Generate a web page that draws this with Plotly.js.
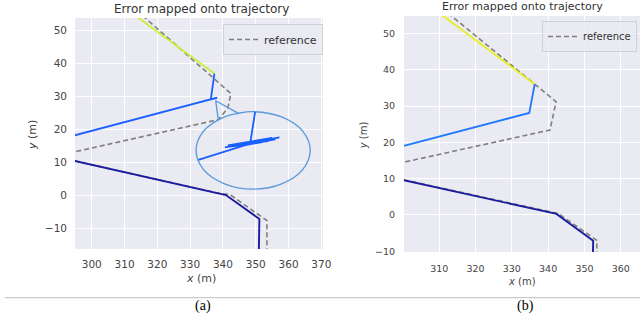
<!DOCTYPE html>
<html>
<head>
<meta charset="utf-8">
<script src="https://cdn.plot.ly/plotly-3.0.1.min.js"></script>
<style>html,body{margin:0;padding:0;background:#fff;}#chart{width:641px;height:322px;}</style>
</head>
<body>
<div id="chart"></div>
<script>
// ---------- Panel (a) data ----------
const aYellowX = [311.1, 337.4];
const aYellowY = [56.0, 36.9];
const aBlueX = [337.4, 336.3, 334.5, 338.1, 335.3, 338.0, 290.0];
const aBlueY = [36.9, 29.1, 28.7, 29.5, 28.9, 29.6, 17.0];
const aNotchX = [338.6, 337.8, 344.7];
const aNotchY = [22.8, 28.7, 24.9];
const aLoopX = [344.7, 349.2, 357.9, 364.3, 366.6, 364.3, 357.9, 349.2, 340.5, 334.1, 331.8, 334.1, 340.5, 344.7];
const aLoopY = [24.9, 25.4, 23.8, 19.5, 13.7, 7.9, 3.6, 2.0, 3.6, 7.9, 13.7, 19.5, 23.8, 24.9];
const aJumbleX = [349.8, 348.3, 357.2, 340.6, 356.0, 341.5, 355.0, 343.0, 354.0, 345.0, 352.0, 346.8, 332.5];
const aJumbleY = [25.3, 15.8, 17.6, 14.6, 17.0, 15.2, 17.5, 14.9, 16.6, 15.8, 16.2, 15.3, 10.8];
const aNavyX = [290.0, 294.9, 340.9, 351.1, 350.9];
const aNavyY = [11.6, 10.5, 0.2, -7.0, -20.0];
const aRefX = [313.7, 342.4, 341.5, 338.6, 290.0, null, 290.0, 294.9, 338.0, 342.2, 353.4, 353.4];
const aRefY = [56.0, 30.9, 26.5, 23.0, 12.2, null, 11.6, 10.5, 0.9, 0.3, -7.5, -20.0];

// ---------- Panel (b) data ----------
const bYellowX = [308.2, 336.3];
const bYellowY = [57.0, 36.0];
const bBlueX = [336.3, 334.8, 300.5, 296.0];
const bBlueY = [36.0, 28.1, 19.1, 17.9];
const bNavyX = [296.0, 300.5, 342.3, 352.4, 352.3];
const bNavyY = [10.5, 9.5, 0.3, -7.1, -14.0];
const bRefX = [310.7, 342.2, 340.5, 300.5, 296.0, null, 296.0, 342.8, 353.4, 353.4];
const bRefY = [57.0, 31.2, 23.4, 14.6, 13.6, null, 10.6, 0.4, -7.0, -14.0];

const refName = 'reference';
const tickVals = [-10, 0, 10, 20, 30, 40, 50];
const xTicksA = [300, 310, 320, 330, 340, 350, 360, 370];
const xTicksB = [300, 310, 320, 330, 340, 350, 360];

const FONT = 'DejaVu Sans, sans-serif';
const W = 641, H = 322;
const px = v => v / W;
const py = v => 1 - v / H;

function seg(x, y, color, width, xa, ya, shape) {
  return {x: x, y: y, mode: 'lines', type: 'scatter', xaxis: xa, yaxis: ya,
    line: {color: color, width: width, shape: shape || 'linear'}, showlegend: false, hoverinfo: 'skip'};
}

const traces = [
  {x: aRefX, y: aRefY, mode: 'lines', type: 'scatter', name: refName, xaxis: 'x', yaxis: 'y',
   line: {color: '#7f7f7f', width: 1.6, dash: '5px,3px'}, connectgaps: false, legend: 'legend'},
  seg(aYellowX, aYellowY, '#cdef3a', 1.8, 'x', 'y'),
  seg(aNavyX, aNavyY, '#1c1c9e', 1.9, 'x', 'y'),
  seg(aNotchX, aNotchY, '#5b9bdc', 1.4, 'x', 'y'),
  seg(aLoopX, aLoopY, '#5b9bdc', 1.4, 'x', 'y', 'spline'),
  seg(aJumbleX, aJumbleY, '#1a5fff', 1.8, 'x', 'y'),
  seg(aBlueX, aBlueY, '#1a5fff', 1.8, 'x', 'y'),

  {x: bRefX, y: bRefY, mode: 'lines', type: 'scatter', name: refName, xaxis: 'x2', yaxis: 'y2',
   line: {color: '#7f7f7f', width: 1.6, dash: '5px,3px'}, connectgaps: false, legend: 'legend2'},
  seg(bYellowX, bYellowY, '#e6f01e', 1.8, 'x2', 'y2'),
  seg(bBlueX, bBlueY, '#1f78ff', 1.8, 'x2', 'y2'),
  seg(bNavyX, bNavyY, '#1c1c9e', 1.9, 'x2', 'y2')
];

const axisCommon = {
  showgrid: true, gridcolor: '#ffffff', gridwidth: 1, zeroline: false,
  showline: false, ticks: '', color: '#444444', tickmode: 'array'
};
const fmt = v => v < 0 ? '\u2212' + Math.abs(v) : String(v);

const layout = {
  width: W, height: H,
  margin: {l: 0, r: 0, t: 0, b: 0},
  paper_bgcolor: '#ffffff',
  plot_bgcolor: '#eaeaf2',
  font: {family: FONT, color: '#333333', size: 11},
  showlegend: true,
  xaxis: Object.assign({}, axisCommon, {domain: [px(75), px(323)], range: [294.9, 370.5], anchor: 'y',
    tickvals: xTicksA, ticktext: xTicksA.map(fmt), tickfont: {family: FONT, size: 10.5, color: '#444'}, ticklabelstandoff: 7}),
  yaxis: Object.assign({}, axisCommon, {domain: [py(249), py(18)], range: [-16.1, 53.7], anchor: 'x',
    tickvals: tickVals, ticktext: tickVals.map(fmt), tickfont: {family: FONT, size: 10.5, color: '#444'}, ticklabelstandoff: 7}),
  xaxis2: Object.assign({}, axisCommon, {domain: [px(404), px(640)], range: [300.3, 365.3], anchor: 'y2',
    tickvals: xTicksB, ticktext: xTicksB.map(fmt), tickfont: {family: FONT, size: 9.5, color: '#444'}, ticklabelstandoff: 9}),
  yaxis2: Object.assign({}, axisCommon, {domain: [py(252), py(16)], range: [-10.2, 54.8], anchor: 'x2',
    tickvals: tickVals, ticktext: tickVals.map(fmt), tickfont: {family: FONT, size: 9.5, color: '#444'}, ticklabelstandoff: 8}),
  legend: {x: px(323), xanchor: 'right', y: py(24), yanchor: 'top', bgcolor: 'rgba(234,234,242,0.85)',
    bordercolor: '#cfcfd8', borderwidth: 1, font: {family: FONT, size: 11, color: '#333'}, itemwidth: 30},
  legend2: {x: px(637), xanchor: 'right', y: py(21), yanchor: 'top', bgcolor: 'rgba(234,234,242,0.85)',
    bordercolor: '#cfcfd8', borderwidth: 1, font: {family: FONT, size: 10, color: '#333'}, itemwidth: 30},
  shapes: [
    {type: 'line', xref: 'paper', yref: 'paper', x0: px(5), x1: px(640), y0: py(297.7), y1: py(297.7),
     line: {color: '#bdbdbd', width: 1}}
  ],
  annotations: [
    {text: 'Error mapped onto trajectory', xref: 'paper', yref: 'paper', x: px(201.7), y: py(9.3), xanchor: 'center', yanchor: 'middle', showarrow: false, font: {family: FONT, size: 12, color: '#333'}},
    {text: 'Error mapped onto trajectory', xref: 'paper', yref: 'paper', x: px(522.8), y: py(6.7), xanchor: 'center', yanchor: 'middle', showarrow: false, font: {family: FONT, size: 11, color: '#333'}},
    {text: '<i>x</i> (m)', xref: 'paper', yref: 'paper', x: px(200.8), y: py(278.3), xanchor: 'center', yanchor: 'middle', showarrow: false, font: {family: FONT, size: 11, color: '#444'}},
    {text: '<i>x</i> (m)', xref: 'paper', yref: 'paper', x: px(521.7), y: py(281.7), xanchor: 'center', yanchor: 'middle', showarrow: false, font: {family: FONT, size: 10, color: '#444'}},
    {text: '<i>y</i> (m)', xref: 'paper', yref: 'paper', x: px(32), y: py(135), xanchor: 'center', yanchor: 'middle', textangle: -90, showarrow: false, font: {family: FONT, size: 11, color: '#444'}},
    {text: '<i>y</i> (m)', xref: 'paper', yref: 'paper', x: px(363.3), y: py(135), xanchor: 'center', yanchor: 'middle', textangle: -90, showarrow: false, font: {family: FONT, size: 10, color: '#444'}},
    {text: '(a)', xref: 'paper', yref: 'paper', x: px(203), y: py(305.5), xanchor: 'center', yanchor: 'middle', showarrow: false, font: {family: 'Liberation Serif, serif', size: 14, color: '#000'}},
    {text: '(b)', xref: 'paper', yref: 'paper', x: px(525), y: py(305.5), xanchor: 'center', yanchor: 'middle', showarrow: false, font: {family: 'Liberation Serif, serif', size: 14, color: '#000'}}
  ]
};

Plotly.newPlot('chart', traces, layout, {displayModeBar: false, staticPlot: true});
</script>
</body>
</html>
